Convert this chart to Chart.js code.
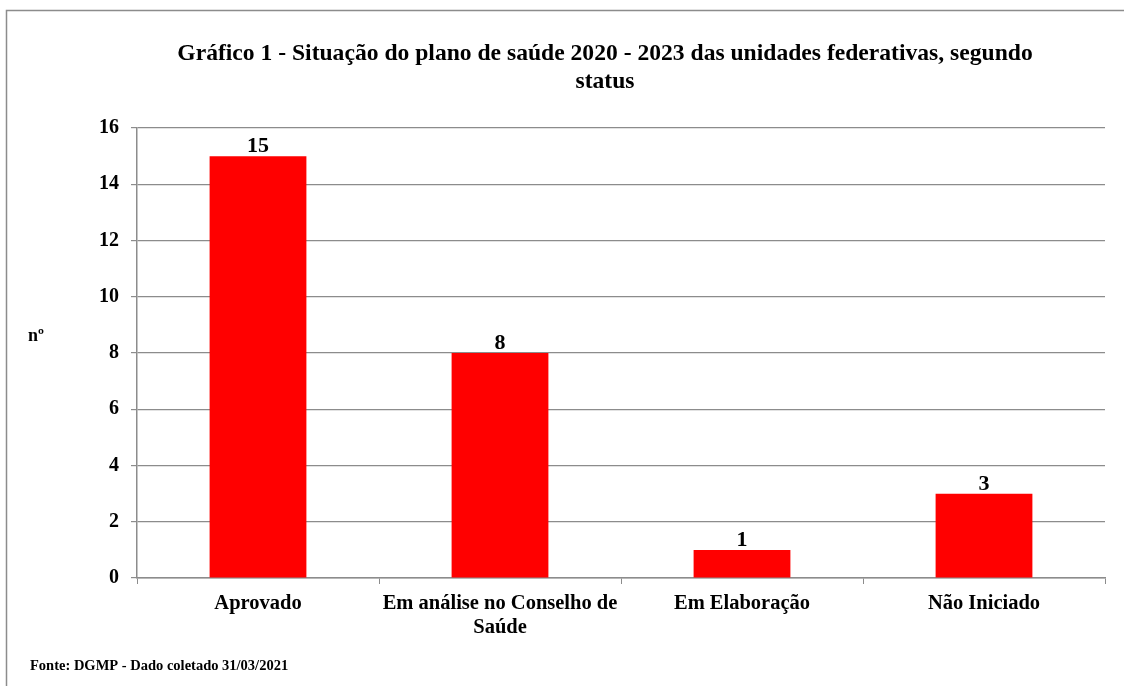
<!DOCTYPE html>
<html>
<head>
<meta charset="utf-8">
<script src="https://cdn.jsdelivr.net/npm/chart.js@4/dist/chart.umd.min.js"></script>
<style>
  html, body { margin: 0; padding: 0; background: #fff; }
  #wrap { width: 1124px; height: 686px; position: relative; }
</style>
</head>
<body>
<div id="wrap"><canvas id="chart" width="1124" height="686"></canvas></div>
<script>
// données
const categories = [['Aprovado'], ['Em análise no Conselho de', 'Saúde'], ['Em Elaboração'], ['Não Iniciado']];
const valeurs = [15, 8, 1, 3];
const titre = ['Gráfico 1 - Situação do plano de saúde 2020 - 2023 das unidades federativas, segundo', 'status'];
const axeY = 'nº';
const source = 'Fonte: DGMP - Dado coletado 31/03/2021';

const serif = '"Liberation Serif", "Times New Roman", serif';

// cadre, titre, libellé de l'axe, étiquettes de données et source
const decor = {
    id: 'decor',
    beforeDraw(chart) {
        const ctx = chart.ctx;
        ctx.save();
        ctx.fillStyle = '#fff';
        ctx.fillRect(0, 0, chart.width, chart.height);
        ctx.strokeStyle = '#8c8c8c';
        ctx.lineWidth = 1.5;
        ctx.strokeRect(6.5, 10.5, 1200, 800);
        ctx.restore();
    },
    afterDraw(chart) {
        const ctx = chart.ctx;
        ctx.save();
        ctx.fillStyle = '#000';
        ctx.textAlign = 'center';
        ctx.textBaseline = 'alphabetic';

        // titre en deux lignes
        ctx.font = 'bold 23.6px ' + serif;
        titre.forEach((ligne, i) => ctx.fillText(ligne, 605, 60 + i * 28));

        ctx.font = 'bold 18px ' + serif;
        ctx.textBaseline = 'middle';
        ctx.fillText(axeY, 36, 336);

        ctx.font = 'bold 22px ' + serif;
        ctx.textBaseline = 'alphabetic';
        const meta = chart.getDatasetMeta(0);
        meta.data.forEach((bar, i) => {
            ctx.fillText(String(valeurs[i]), bar.x, bar.y - 4);
        });

        ctx.font = 'bold 14.5px ' + serif;
        ctx.textAlign = 'left';
        ctx.fillText(source, 30, 670);
        ctx.restore();
    }
};

const ctx = document.getElementById('chart').getContext('2d');
new Chart(ctx, {
    type: 'bar',
    data: {
        labels: categories,
        datasets: [{
            data: valeurs,
            backgroundColor: '#ff0000',
            borderWidth: 0,
            barPercentage: 0.4,
            categoryPercentage: 1.0
        }]
    },
    options: {
        responsive: false,
        animation: false,
        layout: { padding: { left: 60, right: 19, top: 128, bottom: 0 } },
        plugins: {
            legend: { display: false },
            tooltip: { enabled: false },
            title: { display: false }
        },
        scales: {
            x: {
                offset: true,
                grid: { offset: true, drawOnChartArea: false, drawTicks: true, tickLength: 6, color: '#8c8c8c' },
                border: { color: '#8c8c8c', width: 1.5 },
                ticks: {
                    color: '#000',
                    maxRotation: 0,
                    autoSkip: false,
                    padding: 8,
                    font: { family: serif, size: 20.5, weight: 'bold', lineHeight: 1.17 }
                },
                afterFit(scale) { scale.height = 108; }
            },
            y: {
                min: 0,
                max: 16,
                ticks: {
                    stepSize: 2,
                    color: '#000',
                    padding: 12,
                    font: { family: serif, size: 20, weight: 'bold' }
                },
                grid: { color: '#8c8c8c', lineWidth: 1.2, tickLength: 6 },
                border: { color: '#8c8c8c', width: 1.5 },
                afterFit(scale) { scale.width = 77; }
            }
        }
    },
    plugins: [decor]
});
</script>
</body>
</html>
